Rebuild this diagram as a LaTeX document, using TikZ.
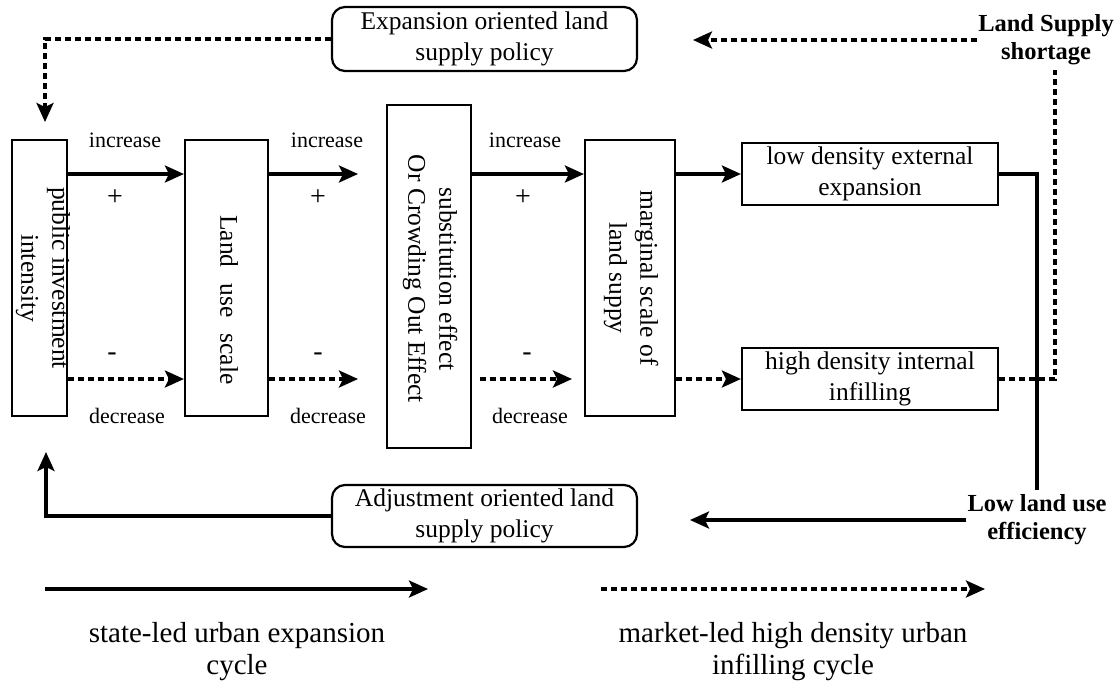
\documentclass[tikz,border=0pt]{standalone}
\usepackage{fontspec}
\setmainfont{Liberation Serif}
\usepackage{graphicx}
\usetikzlibrary{arrows.meta}
\newcommand{\boxfnt}{\fontsize{25.5}{31}\selectfont}
\newcommand{\lblfnt}{\fontsize{22}{26}\selectfont}
\newcommand{\sgnfnt}{\fontsize{28}{30}\selectfont}
\newcommand{\keyfnt}{\fontsize{24.5}{28}\selectfont\bfseries}
\newcommand{\capfnt}{\fontsize{29}{32}\selectfont}
\begin{document}
\begin{tikzpicture}[x=1pt,y=-1pt,
  box/.style={draw, line width=2.2pt, inner sep=0pt, align=center, font=\boxfnt},
  rbox/.style={box, rounded corners=13pt},
  vtext/.style={rotate=-90, align=center, font=\boxfnt, inner sep=0pt},
  lbl/.style={font=\lblfnt, inner sep=0pt},
  sgn/.style={font=\sgnfnt, inner sep=0pt},
  keytxt/.style={font=\keyfnt, align=center, inner sep=1pt},
  captxt/.style={font=\capfnt, align=center, inner sep=0pt},
  tipend/.style={-{Stealth[length=19pt,width=17pt,inset=4pt]}},
  sline/.style={line width=3.2pt},
  dline/.style={line width=3.2pt, dash pattern=on 6pt off 4pt},
  arr/.style={sline, tipend},
  darr/.style={dline, tipend}]
\useasboundingbox (0,0) rectangle (1118,689);

% policy boxes
\node[rbox, minimum width=305pt, minimum height=64pt] (top) at (484.5,39) {Expansion oriented land\\supply policy};
\node[rbox, minimum width=305pt, minimum height=62pt] (bot) at (484.5,516) {Adjustment oriented land\\supply policy};

% main boxes
\node[box, minimum width=55pt, minimum height=276pt] (b1) at (39.5,278) {};
\node[vtext] (t1) at (43,278) {public investment\\intensity};
\node[box, minimum width=83pt, minimum height=276pt] (b2) at (226.5,278) {};
\node[vtext] (t2) at (229,300) {Land\hspace{16pt}use\hspace{16pt}scale};
\node[box, minimum width=84pt, minimum height=343pt] (b3) at (429,276.5) {};
\node[vtext] (t3) at (430,279) {substitution effect\\Or Crowding Out Effect};
\node[box, minimum width=90pt, minimum height=276pt] (b4) at (630,278) {};
\node[vtext] (t4) at (631,278) {marginal scale of\\land suppy};
\node[box, minimum width=256pt, minimum height=62pt] (b5) at (870,174) {low density external\\expansion};
\node[box, minimum width=256pt, minimum height=62pt] (b6) at (870,379) {high density internal\\infilling};

% key statements
\node[keytxt] (ls) at (1046,40) {Land Supply\\shortage};
\node[keytxt] (lu) at (1037,520) {Low land use\\efficiency};

% labels
\node[lbl] (i1) at (125,140) {increase};
\node[lbl] (i2) at (327,140) {increase};
\node[lbl] (i3) at (525,140) {increase};
\node[sgn] (p1) at (115,198) {+};
\node[sgn] (p2) at (318,198) {+};
\node[sgn] (p3) at (523,198) {+};
\node[sgn] (m1) at (112,357) {-};
\node[sgn] (m2) at (318,357) {-};
\node[sgn] (m3) at (527,357) {-};
\node[lbl] (d1) at (127,416) {decrease};
\node[lbl] (d2) at (328,416) {decrease};
\node[lbl] (d3) at (530,416) {decrease};

% free ends
\coordinate (e2) at (358,174);
\coordinate (f2) at (358,379);
\coordinate (f3a) at (480,379);
\coordinate (f3b) at (572,379);
\coordinate (topin) at (45,122);
\coordinate (lsend) at (693,40);
\coordinate (vd) at (1055,70);
\coordinate (ve) at (1037,490);
\coordinate (luend) at (690,520);
\coordinate (botin) at (46,452);
\coordinate (a1) at (45,589);
\coordinate (a2) at (428,589);
\coordinate (a3) at (601,589);
\coordinate (a4) at (985,589);

% increase arrows
\draw[arr] (b1.east |- b5.west) -- (b2.west |- b5.west);
\draw[arr] (b2.east |- e2) -- (e2);
\draw[arr] (b3.east |- b5.west) -- (b4.west |- b5.west);
\draw[arr] (b4.east |- b5.west) -- (b5.west);

% decrease arrows
\draw[darr] (b1.east |- b6.west) -- (b2.west |- b6.west);
\draw[darr] (b2.east |- f2) -- (f2);
\draw[darr] (f3a) -- (f3b);
\draw[darr] (b4.east |- b6.west) -- (b6.west);

% feedback loops
\draw[darr] (top.west) -| (topin);
\draw[darr] (ls.west) -- (lsend);
\draw[dline] (b6.east) -| (vd);
\draw[sline] (b5.east) -| (ve);
\draw[arr] (lu.west) -- (luend);
\draw[arr] (bot.west) -| (botin);

% legend
\draw[arr] (a1) -- (a2);
\draw[darr] (a3) -- (a4);
\node[captxt] (c1) at (237,652) {state-led urban expansion\\cycle};
\node[captxt] (c2) at (793,652) {market-led high density urban\\infilling cycle};
\end{tikzpicture}
\end{document}
